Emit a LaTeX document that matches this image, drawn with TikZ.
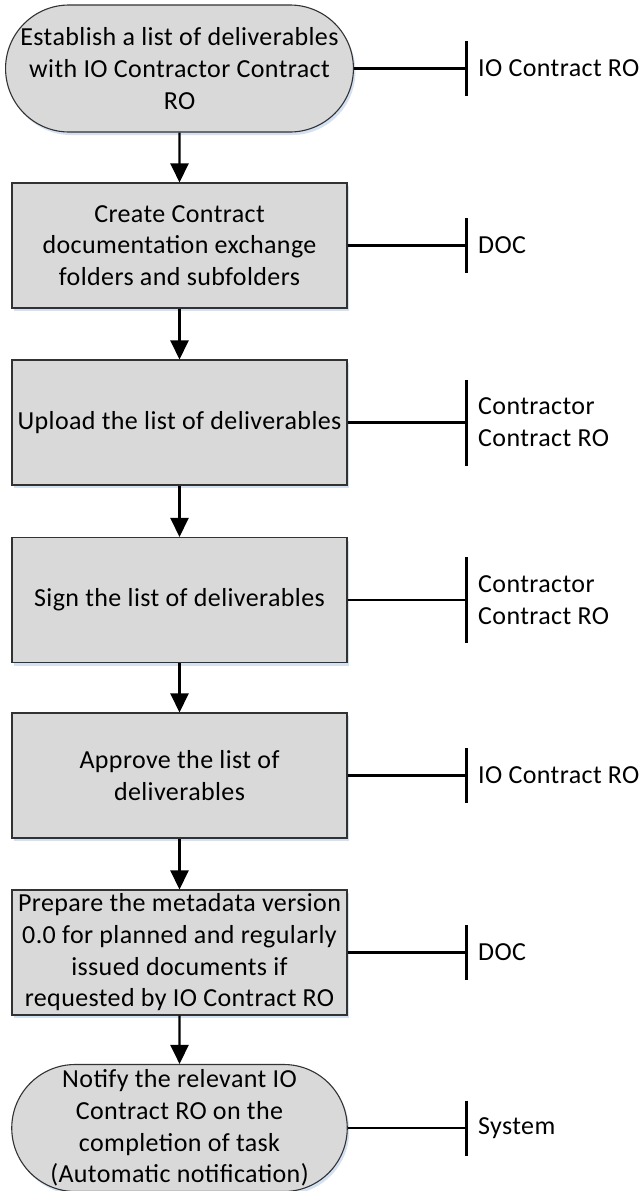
\documentclass[tikz,border=0pt]{standalone}
\usepackage{fontspec}
\setmainfont{Carlito}[LetterSpace=1.5]
\usetikzlibrary{arrows.meta,shapes.misc,shadows}

\definecolor{boxgray}{RGB}{217,217,217}
\definecolor{shadowblue}{RGB}{212,225,242}
\definecolor{edgegray}{RGB}{50,50,50}

\begin{document}
\begin{tikzpicture}[x=1pt,y=-1pt,
  txt/.style={font=\fontsize{26}{31.7}\selectfont},
  stepbox/.style={txt, draw=edgegray, line width=1.1pt, fill=boxgray,
    minimum width=335pt, minimum height=125pt, inner sep=0pt, align=center,
    drop shadow={shadow xshift=2pt, shadow yshift=-3pt, fill=shadowblue, draw=none, opacity=1}},
  terminal/.style={stepbox, rounded rectangle, minimum height=127pt},
  flow/.style={line width=2.4pt, -{Triangle[length=19pt,width=18pt]}},
  tie/.style={line width=2.2pt},
  role/.style={txt, anchor=west, inner sep=0pt, align=left},
]
\useasboundingbox (0,0) rectangle (641,1191);

% process column
\node[terminal] (t1) at (179.5,68.5)
  {Establish a list of deliverables\\with IO Contractor Contract\\RO};
\node[stepbox] (b2) at (179.5,245.5)
  {Create Contract\\documentation exchange\\folders and subfolders};
\node[stepbox] (b3) at (179.5,422.5) {Upload the list of deliverables};
\node[stepbox] (b4) at (179.5,600) {Sign the list of deliverables};
\node[stepbox] (b5) at (179.5,775.5) {Approve the list of\\deliverables};
\node[stepbox] (b6) at (179.5,952.5)
  {Prepare the metadata version\\0.0 for planned and regularly\\issued documents if\\requested by IO Contract RO};
\node[terminal] (t7) at (179.5,1128)
  {Notify the relevant IO\\Contract RO on the\\completion of task\\(Automatic notification)};

\draw[flow] (t1) -- (b2);
\draw[flow] (b2) -- (b3);
\draw[flow] (b3) -- (b4);
\draw[flow] (b4) -- (b5);
\draw[flow] (b5) -- (b6);
\draw[flow] (b6) -- (t7);

% responsible roles
\coordinate (r1) at (466.5,68.5);
\coordinate (r2) at (466.5,245.5);
\coordinate (r3) at (466.5,422.5);
\coordinate (r4) at (466.5,600);
\coordinate (r5) at (466.5,775.5);
\coordinate (r6) at (466.5,952.5);
\coordinate (r7) at (466.5,1128);

\foreach \s/\r/\h in {t1/r1/27.5, b2/r2/27.5, b3/r3/43, b4/r4/43, b5/r5/27.5, b6/r6/27.5, t7/r7/27.5}{
  \draw[tie] (\s.east) -- (\r);
  \draw[tie] ([yshift=\h pt]\r) -- ([yshift=-\h pt]\r);
}

\node[role] (l1) at (478,68.5) {IO Contract RO};
\node[role] (l2) at (478,245.5) {DOC};
\node[role] (l3) at (478,422.5) {Contractor\\Contract RO};
\node[role] (l4) at (478,600) {Contractor\\Contract RO};
\node[role] (l5) at (478,775.5) {IO Contract RO};
\node[role] (l6) at (478,952.5) {DOC};
\node[role] (l7) at (478,1128) {System};
\end{tikzpicture}
\end{document}
